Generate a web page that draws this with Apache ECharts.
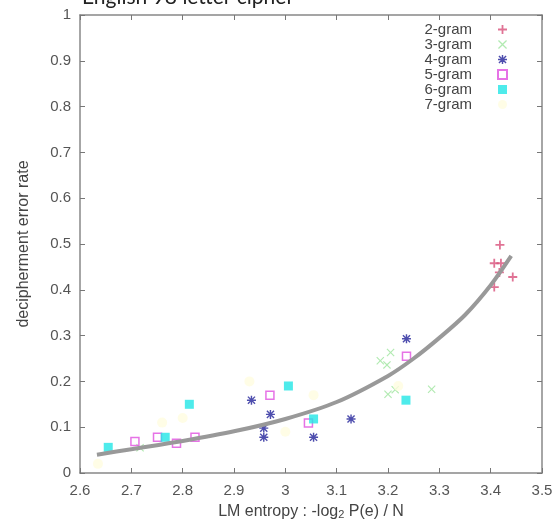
<!DOCTYPE html>
<html>
<head>
<meta charset="utf-8">
<script src="https://cdn.jsdelivr.net/npm/echarts@6/dist/echarts.min.js"></script>
<style>html,body{margin:0;padding:0;background:#fff;}#c{width:557px;height:525px;}</style>
</head>
<body>
<div id="c"></div>
<script>
// ---- data ----
const xTicks = [2.6, 2.7, 2.8, 2.9, 3.0, 3.1, 3.2, 3.3, 3.4, 3.5];
const yTicks = [0, 0.1, 0.2, 0.3, 0.4, 0.5, 0.6, 0.7, 0.8, 0.9, 1];
const seriesNames = ['2-gram', '3-gram', '4-gram', '5-gram', '6-gram', '7-gram'];

const g2x = [3.418, 3.407, 3.420, 3.417, 3.443, 3.407];
const g2y = [0.498, 0.458, 0.458, 0.438, 0.428, 0.406];

const g3x = [3.185, 3.198, 3.205, 3.200, 3.214, 3.285, 2.717];
const g3y = [0.245, 0.236, 0.263, 0.172, 0.182, 0.183, 0.055];

const g4x = [3.236, 2.934, 2.971, 2.958, 2.958, 3.055, 3.128];
const g4y = [0.293, 0.159, 0.128, 0.098, 0.078, 0.078, 0.118];

const g5x = [3.236, 2.707, 2.751, 2.788, 2.824, 2.970, 3.045];
const g5y = [0.255, 0.069, 0.078, 0.065, 0.078, 0.170, 0.109];

const g6x = [2.655, 2.766, 2.813, 3.006, 3.055, 3.235];
const g6y = [0.056, 0.078, 0.150, 0.190, 0.118, 0.159];

const g7x = [2.635, 2.760, 2.800, 3.000, 3.055, 3.220, 2.930];
const g7y = [0.020, 0.110, 0.120, 0.090, 0.170, 0.190, 0.200];

const fitX = [2.633, 2.70, 2.80, 2.90, 3.00, 3.10, 3.20, 3.25, 3.30, 3.35, 3.40, 3.44];
const fitY = [0.040, 0.052, 0.070, 0.091, 0.118, 0.155, 0.212, 0.250, 0.295, 0.345, 0.410, 0.474];

const zip = (xs, ys) => xs.map((x, i) => [x, ys[i]]);

const PLUS = 'path://M4,0H6V4H10V6H6V10H4V6H0V4H4Z';
const CROSS = 'path://M1,0L5,4L9,0L10,1L6,5L10,9L9,10L5,6L1,10L0,9L4,5L0,1Z';
const STAR = 'path://M4.2,0H5.8V4.2H10V5.8H5.8V10H4.2V5.8H0V4.2H4.2Z M1.6,0.5L9.5,8.4L8.4,9.5L0.5,1.6Z M8.4,0.5L9.5,1.6L1.6,9.5L0.5,8.4Z';

const FONT = 'Liberation Sans';
const fmt = v => String(Math.round(v * 10) / 10);

const baseX = {
  type: 'value', min: xTicks[0], max: xTicks[xTicks.length - 1], interval: 0.1,
  splitLine: { show: false },
  axisLine: { show: true, onZero: false, lineStyle: { color: '#888', width: 1.5 } },
  axisTick: { show: true, inside: true, length: 5, lineStyle: { color: '#777', width: 1 } }
};
const baseY = {
  type: 'value', min: yTicks[0], max: yTicks[yTicks.length - 1], interval: 0.1,
  splitLine: { show: false },
  axisLine: { show: true, onZero: false, lineStyle: { color: '#888', width: 1.5 } },
  axisTick: { show: true, inside: true, length: 5, lineStyle: { color: '#777', width: 1 } }
};

const scatter = (name, xs, ys, symbol, size, itemStyle) => ({
  name, type: 'scatter', data: zip(xs, ys), symbol, symbolSize: size, itemStyle
});

const chart = echarts.init(document.getElementById('c'), null, { renderer: 'canvas' });
chart.setOption({
  animation: false,
  backgroundColor: '#fff',
  title: {
    text: 'English 98 letter cipher', left: 82, top: -13, padding: 0,
    textStyle: { fontFamily: 'Lato', fontSize: 21, fontWeight: 'normal', color: '#222' }
  },
  grid: { left: 80, right: 15, top: 15, bottom: 50 },
  legend: {
    orient: 'vertical', right: 44, top: 17, align: 'right', itemGap: 0,
    itemWidth: 9, itemHeight: 9,
    data: seriesNames,
    textStyle: { fontFamily: FONT, fontSize: 15, color: '#444', lineHeight: 15, padding: [0, 21, 0, 0] }
  },
  xAxis: [
    Object.assign({}, baseX, {
      position: 'bottom',
      axisLabel: { margin: 10, fontFamily: FONT, fontSize: 15, color: '#555', formatter: fmt },
      name: '{a|LM entropy : -log}{s|2}{a| P(e) / N}', nameLocation: 'middle', nameGap: 30,
      nameTextStyle: { rich: {
        a: { fontFamily: FONT, fontSize: 16, color: '#444' },
        s: { fontFamily: FONT, fontSize: 11, color: '#444', verticalAlign: 'bottom', padding: [6, 0, 0, 0] }
      } }
    }),
    Object.assign({}, baseX, { position: 'top', axisLabel: { show: false } })
  ],
  yAxis: [
    Object.assign({}, baseY, {
      position: 'left',
      axisLabel: { margin: 9, fontFamily: FONT, fontSize: 15, color: '#555', formatter: fmt },
      name: 'decipherment error rate', nameLocation: 'middle', nameGap: 48,
      nameTextStyle: { fontFamily: FONT, fontSize: 16, color: '#444' }
    }),
    Object.assign({}, baseY, { position: 'right', axisLabel: { show: false } })
  ],
  series: [
    scatter('2-gram', g2x, g2y, PLUS, 9, { color: '#d8507a' }),
    scatter('3-gram', g3x, g3y, CROSS, 8, { color: '#9ee59e' }),
    scatter('4-gram', g4x, g4y, STAR, 9, { color: '#22229a' }),
    scatter('5-gram', g5x, g5y, 'rect', 8, { color: 'rgba(255,255,255,0)', borderColor: '#e050e0', borderWidth: 1.5 }),
    scatter('6-gram', g6x, g6y, 'rect', 9, { color: '#22e6e6' }),
    scatter('7-gram', g7x, g7y, 'circle', 10, { color: '#fffce0' }),
    {
      name: 'fit', type: 'line', data: zip(fitX, fitY), smooth: 0.3, showSymbol: false,
      lineStyle: { color: '#999', width: 4 }, z: 5
    }
  ]
});
</script>
</body>
</html>
